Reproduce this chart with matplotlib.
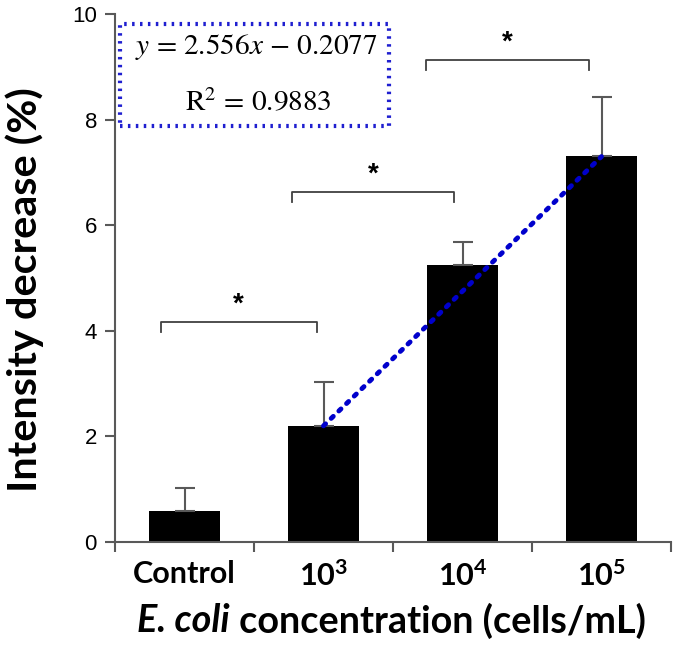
import matplotlib
matplotlib.use("Agg")
import matplotlib.pyplot as plt
from matplotlib.patches import Rectangle

categories = ["Control", "$\\mathbf{10^3}$", "$\\mathbf{10^4}$", "$\\mathbf{10^5}$"]
values = [0.58, 2.20, 5.25, 7.32]
errors = [0.45, 0.83, 0.44, 1.11]
trend_x = [1, 3]
trend_y = [2.20, 7.30]
equation_text = "$y$ = 2.556$x$ − 0.2077"
r2_text = "R$^2$ = 0.9883"
brackets = [(-0.17, 0.95, 4.17), (0.77, 1.94, 6.63), (1.74, 2.91, 9.13)]

plt.rcParams["mathtext.fontset"] = "custom"
plt.rcParams["mathtext.bf"] = "Lato:bold"
plt.rcParams["mathtext.rm"] = "STIXGeneral"
plt.rcParams["mathtext.it"] = "STIXGeneral:italic"

W, H = 675, 650
fig = plt.figure(figsize=(W / 100, H / 100), dpi=100)
ax = fig.add_axes([115 / W, 1 - 542 / H, 556 / W, 528 / H])
renderer = fig.canvas.get_renderer()


def fit(t, target, horizontal=True):
    bb = t.get_window_extent(renderer)
    cur = bb.width if horizontal else bb.height
    t.set_fontsize(t.get_fontsize() * target / cur)


axcol = "#595959"
x = list(range(len(categories)))
ax.bar(x, values, width=0.51, color="black", zorder=2)
ax.errorbar(x, values, yerr=[[0] * len(errors), errors], fmt="none",
            ecolor=axcol, elinewidth=1.5, capsize=7, capthick=1.5, zorder=3)

ax.plot(trend_x, trend_y, color="#0000CC", linestyle=(0, (0.6, 1.6)),
        linewidth=3.5, dash_capstyle="round", zorder=4)

for x0, x1, yb in brackets:
    ax.plot([x0, x0, x1, x1], [yb - 0.2, yb, yb, yb - 0.2], color="#404040",
            linewidth=1.3, solid_joinstyle="round", zorder=3)
    ax.text((x0 + x1) / 2, yb + 0.08, "*", ha="center", va="bottom",
            fontsize=20, fontfamily="Liberation Sans", fontweight="bold")

rect = Rectangle((-0.464, 7.88), 1.935, 1.93, fill=False, edgecolor="#1F1FD0",
                 linewidth=3, linestyle=(0, (0.6, 1.3)), zorder=5,
                 clip_on=False)
ax.add_patch(rect)
eq = ax.text(0.518, 9.38, equation_text, ha="center", va="center", fontsize=20,
             fontfamily="STIXGeneral", zorder=6)
r2 = ax.text(0.528, 8.31, r2_text, ha="center", va="center", fontsize=20,
             fontfamily="STIXGeneral", zorder=6)
fit(eq, 243)
r2.set_fontsize(eq.get_fontsize())

ax.set_xlim(-0.5, 3.5)
ax.set_ylim(0, 10)
for s in ["top", "right"]:
    ax.spines[s].set_visible(False)
for s in ["left", "bottom"]:
    ax.spines[s].set_color(axcol)
    ax.spines[s].set_linewidth(1.5)

ax.set_yticks([0, 2, 4, 6, 8, 10])
ax.set_yticklabels(["0", "2", "4", "6", "8", "10"], fontfamily="Liberation Sans",
                   fontsize=16)
ax.tick_params(axis="y", direction="out", length=7, width=1.5, color=axcol,
               pad=6)

ax.set_xticks([-0.5, 0.5, 1.5, 2.5, 3.5])
ax.set_xticklabels([])
ax.tick_params(axis="x", which="major", direction="out", length=7, width=1.5,
               color=axcol)
ax.set_xticks(x, minor=True)
ax.set_xticklabels(categories, minor=True, fontfamily="Lato",
                   fontweight="bold", fontsize=20)
ax.tick_params(axis="x", which="minor", length=0, pad=13)
fig.canvas.draw()
ctrl = ax.get_xticklabels(minor=True)[0]
bb = ctrl.get_window_extent(renderer)
tick_fs = 20 * 103 / bb.width
for lab in ax.get_xticklabels(minor=True):
    lab.set_fontsize(tick_fs)

# y label
yl = fig.text(25 / W, 1 - 290 / H, "Intensity decrease (%)", rotation=90,
              ha="center", va="center", fontfamily="Lato", fontweight="bold",
              fontsize=24)
fit(yl, 405, horizontal=False)

# x label: italic part + regular part
fs = 24
p1 = fig.text(0, 0, "E. coli", fontfamily="Lato", fontweight="bold",
              style="italic", fontsize=fs, ha="left", va="center")
p2 = fig.text(0, 0, " concentration (cells/mL)", fontfamily="Lato",
              fontweight="bold", fontsize=fs, ha="left", va="center")
w1 = p1.get_window_extent(renderer).width
w2 = p2.get_window_extent(renderer).width
scale = 510 / (w1 + w2)
p1.set_fontsize(fs * scale)
p2.set_fontsize(fs * scale)
w1 *= scale
w2 *= scale
x_start = 392 - (w1 + w2) / 2
yc = 1 - 621 / H
p1.set_position((x_start / W, yc))
p2.set_position(((x_start + w1) / W, yc))

fig.savefig("out.png", dpi=100)
